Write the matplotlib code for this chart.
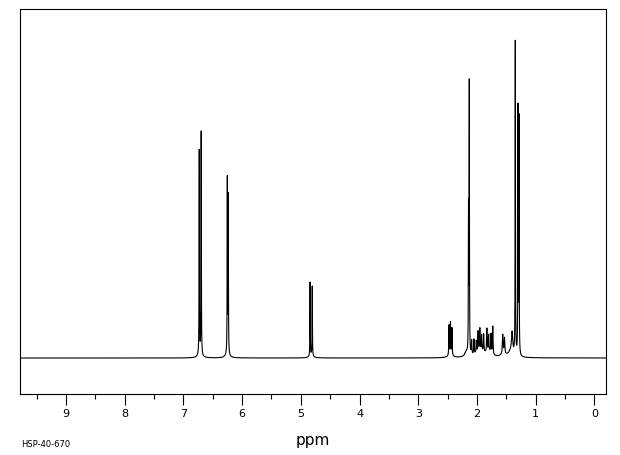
import numpy as np
import matplotlib
matplotlib.use("Agg")
import matplotlib.pyplot as plt
from matplotlib.ticker import MultipleLocator

# peak list: shift (ppm), height (arb.), half width (ppm)
shifts = [6.730, 6.697, 6.252, 6.236, 4.842, 4.805,
          2.475, 2.450, 2.425, 2.143, 2.130,
          2.180, 2.090, 2.050, 2.010, 1.980, 1.950, 1.920, 1.885, 1.830,
          1.800, 1.760, 1.730, 1.560, 1.530, 1.400,
          1.346, 1.300, 1.283]
heights = [204, 224, 174, 157, 74, 70,
           30, 32, 27, 143, 269,
           5, 14, 15, 12, 20, 22, 16, 18, 23,
           16, 19, 28, 18, 15, 20,
           313, 245, 236]
widths = [0.003, 0.003, 0.003, 0.003, 0.003, 0.003,
          0.004, 0.004, 0.004, 0.003, 0.003,
          0.030, 0.005, 0.005, 0.005, 0.005, 0.005, 0.005, 0.005, 0.005,
          0.005, 0.005, 0.005, 0.006, 0.006, 0.012,
          0.003, 0.003, 0.003]

# broad underlying humps of the aliphatic multiplets
hump_shifts = [1.95, 1.80, 1.55, 1.42, 2.45, 6.72, 6.25, 4.82]
hump_heights = [6, 5, 4, 6, 3, 3, 3, 2]
hump_widths = [0.08, 0.06, 0.04, 0.05, 0.04, 0.04, 0.04, 0.04]

ppm = np.arange(-0.2, 9.8, 0.0004)
spec = np.zeros_like(ppm)
for s, h, w in zip(shifts + hump_shifts, heights + hump_heights, widths + hump_widths):
    spec += h * w**2 / (w**2 + (ppm - s)**2)

fig = plt.figure(figsize=(6.2, 4.55), dpi=100)
ax = fig.add_axes([20/620, 1 - 394/455, 586/620, 385/455])
ax.plot(ppm, spec, color='black', linewidth=0.8)

ax.set_xlim(9.784, -0.199)
ax.set_ylim(-36, 349)

ax.xaxis.set_major_locator(MultipleLocator(1))
ax.xaxis.set_minor_locator(MultipleLocator(0.5))
ax.tick_params(axis='x', which='major', direction='out', length=8, width=0.8,
               pad=3, labelsize=8)
ax.tick_params(axis='x', which='minor', direction='out', length=3.5, width=0.8)
ax.set_yticks([])
for sp in ax.spines.values():
    sp.set_linewidth(0.8)

fig.text(313/620, 1 - 440/455, 'ppm', ha='center', va='center', fontsize=11)
fig.text(21/620, 1 - 444.5/455, 'HSP-40-670', ha='left', va='center', fontsize=6)

fig.savefig('out.png', dpi=100)
